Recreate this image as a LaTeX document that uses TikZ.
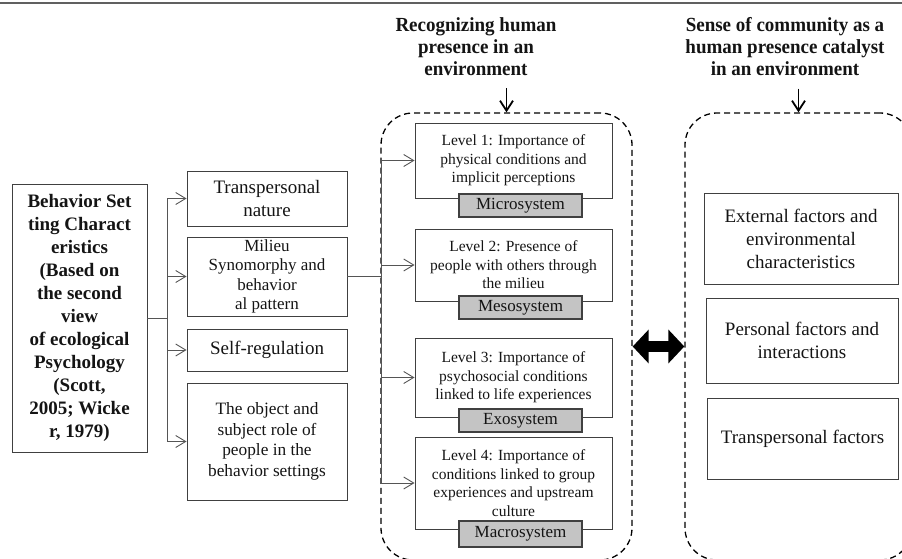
\documentclass[tikz,border=0pt]{standalone}
\usepackage{fontspec}
\setmainfont{Liberation Serif}
\newfontfamily\titlefont[FakeStretch=0.95]{Liberation Serif}
\usetikzlibrary{arrows.meta}
\definecolor{boxline}{HTML}{404040}
\definecolor{linkgray}{HTML}{555555}
\definecolor{sysfill}{HTML}{C4C4C4}
\definecolor{inktext}{HTML}{141414}
\definecolor{rulegray}{HTML}{606060}

\begin{document}
\begin{tikzpicture}[x=1pt,y=-1pt,
    every node/.style={inner sep=0pt, text=inktext},
    plainbox/.style={draw=boxline, line width=0.9pt, align=center},
    bscbox/.style={plainbox, minimum width=135pt, minimum height=268pt, font=\fontsize{19}{23}\selectfont\bfseries},
    featbox/.style={plainbox, minimum width=160pt, font=\fontsize{17.3}{20.5}\selectfont},
    lvlbox/.style={plainbox, minimum width=197pt, font=\fontsize{15.5}{18.5}\selectfont},
    sysbox/.style={plainbox, fill=sysfill, line width=1.1pt, minimum width=123pt, minimum height=23pt, font=\fontsize{17}{20}\selectfont},
    facbox/.style={plainbox, font=\fontsize{19}{23}\selectfont},
    grpbox/.style={draw=black, line width=1.3pt, dash pattern=on 6pt off 4pt, rounded corners=32pt, minimum height=447pt},
    titletext/.style={align=center, anchor=north, font=\titlefont\bfseries\fontsize{20}{22}\selectfont},
    link/.style={draw=linkgray, line width=0.9pt},
    arrowlink/.style={link, -{Straight Barb[length=10pt,width=12pt]}},
    downarrow/.style={draw=black, line width=1.8pt, -{Straight Barb[length=10pt,width=13pt]}},
    bigarrow/.style={draw=black, line width=11pt, {Triangle[length=16pt,width=33pt]}-{Triangle[length=16pt,width=33pt]}}]
    \clip (0,0) rectangle (902,559);
    \draw [rulegray, line width=2pt] (0,3) -- (902,3);

    \node [grpbox, minimum width=251pt] (lvlgroup) at (506.5,336.5) {};
    \node [grpbox, minimum width=227pt] (facgroup) at (798.5,336.5) {};

    \node [titletext] (recogtitle) at (476,17) {Recognizing human\\presence in an\\environment};
    \node [titletext] (sensetitle) at (785,17) {Sense of community as a\\human presence catalyst\\in an environment};

    \node [bscbox] (bsc) at (79.5,318) {Behavior Set\\ting Charact\\eristics\\(Based on\\the second\\view\\of ecological\\Psychology\\(Scott,\\2005; Wicke\\r, 1979)};

    \node [featbox, minimum height=55pt, font=\fontsize{19}{24}\selectfont] (trans) at (267,198.5) {Transpersonal\\nature};
    \node [featbox, minimum height=79pt, font=\fontsize{17}{19.5}\selectfont] (milieu) at (267,276.5) {Milieu\\Synomorphy and\\behavior\\al pattern};
    \node [featbox, minimum height=42pt, font=\fontsize{19}{23}\selectfont] (selfreg) at (267,350) {Self-regulation};
    \node [featbox, minimum height=117pt] (objrole) at (267,441.5) {The object and\\subject role of\\people in the\\behavior settings};

    \node [lvlbox, minimum height=75pt] (lvlone) at (513.5,160.5) {Level 1: Importance of\\physical conditions and\\implicit perceptions};
    \node [lvlbox, minimum height=72pt] (lvltwo) at (513.5,265) {Level 2: Presence of\\people with others through\\the milieu};
    \node [lvlbox, minimum height=79pt] (lvlthree) at (513.5,377.5) {Level 3: Importance of\\psychosocial conditions\\linked to life experiences};
    \node [lvlbox, minimum height=92pt] (lvlfour) at (513.5,483) {Level 4: Importance of\\conditions linked to group\\experiences and upstream\\culture};

    \node [sysbox] (microsys) at (520.5,205.5) {Microsystem};
    \node [sysbox] (mesosys) at (520.5,307.5) {Mesosystem};
    \node [sysbox] (exosys) at (520.5,420.5) {Exosystem};
    \node [sysbox, minimum height=26pt] (macrosys) at (520.5,534) {Macrosystem};

    \node [facbox, minimum width=194pt, minimum height=91pt] (extfac) at (801,238.5) {External factors and\\environmental\\characteristics};
    \node [facbox, minimum width=192pt, minimum height=85pt] (perfac) at (802,340.5) {Personal factors and\\interactions};
    \node [facbox, minimum width=191pt, minimum height=81pt] (trpfac) at (802.5,438.5) {Transpersonal factors};

    \coordinate (forkone) at (167,318);
    \draw [link] (bsc.east) -- (forkone);
    \foreach \t in {trans,milieu,selfreg,objrole}
        \draw [arrowlink] (forkone) |- (\t.west);
    \coordinate (forktwo) at (381,276.5);
    \draw [link] (milieu.east) -- (forktwo);
    \foreach \t in {lvlone,lvltwo,lvlthree,lvlfour}
        \draw [arrowlink] (forktwo) |- (\t.west);

    \draw [downarrow] (recogtitle.south -| lvlgroup.north) ++(0,13) -- (lvlgroup.north);
    \draw [downarrow] (sensetitle.south -| facgroup.north) ++(0,13) -- (facgroup.north);
    \draw [bigarrow] ([yshift=-10pt]lvlgroup.east) -- ([yshift=-10pt]facgroup.west);
\end{tikzpicture}
\end{document}
